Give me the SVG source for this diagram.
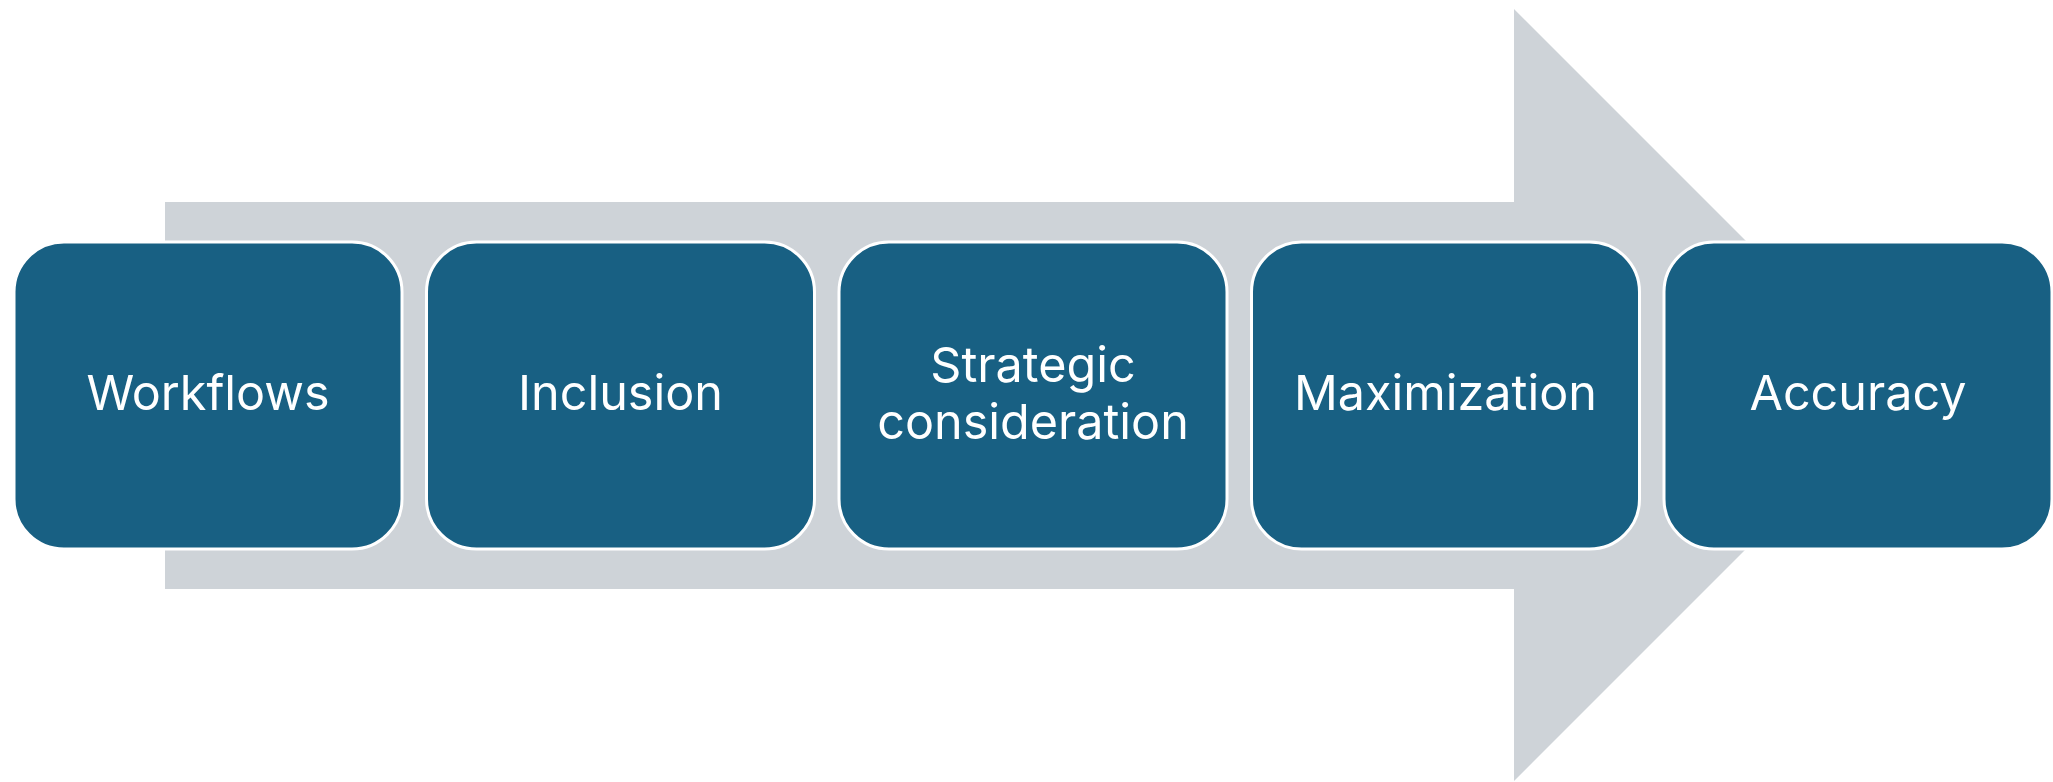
<svg xmlns="http://www.w3.org/2000/svg" width="2053" height="782" viewBox="0 0 2053 782">
<style>
.box{fill:#186083;stroke:#ffffff;stroke-width:3}
.lbl{font-family:Inter,"Liberation Sans",sans-serif;font-size:48.5px;fill:#ffffff;text-anchor:middle}
</style>
<rect width="2053" height="782" fill="#ffffff"/>
<g id="arrow">
<polygon points="165,202 1514,202 1514,9 1900,395 1514,781 1514,589 165,589" fill="#ced3d8"/>
</g>
<g id="n1"><rect class="box" x="14" y="242" width="388" height="307" rx="50"/><text class="lbl" x="208" y="410">Workflows</text></g>
<g id="n2"><rect class="box" x="426.5" y="242" width="388" height="307" rx="50"/><text class="lbl" x="620.5" y="410">Inclusion</text></g>
<g id="n3"><rect class="box" x="839" y="242" width="388" height="307" rx="50"/><text class="lbl" x="1033" y="382">Strategic</text><text class="lbl" x="1033" y="439">consideration</text></g>
<g id="n4"><rect class="box" x="1251.5" y="242" width="388" height="307" rx="50"/><text class="lbl" x="1445.5" y="410">Maximization</text></g>
<g id="n5"><rect class="box" x="1664" y="242" width="388" height="307" rx="50"/><text class="lbl" x="1858" y="410">Accuracy</text></g>
<g id="connectors"></g>
</svg>
